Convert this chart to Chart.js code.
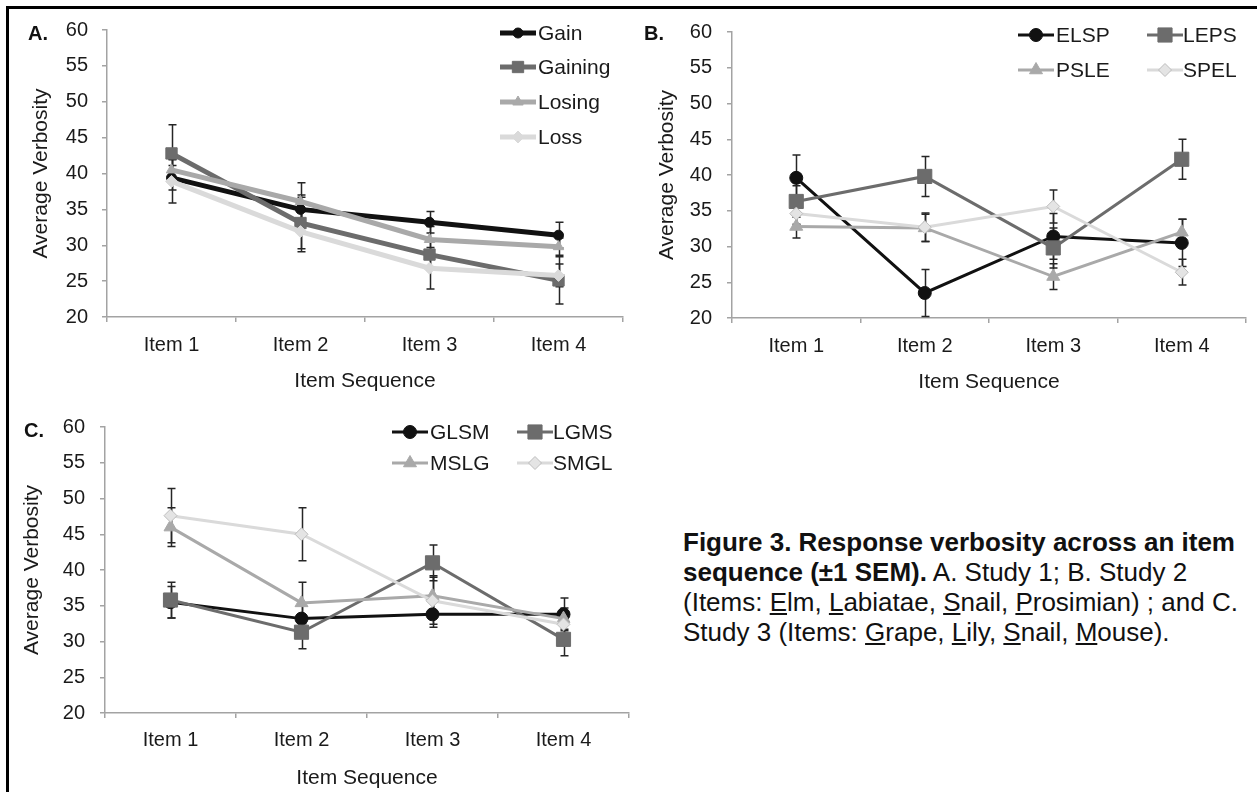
<!DOCTYPE html>
<html>
<head>
<meta charset="utf-8">
<script src="https://cdn.jsdelivr.net/npm/chart.js@4.4.1/dist/chart.umd.min.js"></script>
<style>
html, body { margin: 0; padding: 0; background: #fff; }
body { width: 1257px; height: 792px; position: relative; overflow: hidden; font-family: 'Liberation Sans', Arial, sans-serif; color: #111; }
#frame { position: absolute; left: 6px; top: 6px; width: 1270px; height: 800px; border-left: 3px solid #000; border-top: 3px solid #000; }
canvas { position: absolute; }
.plabel { position: absolute; font-weight: bold; font-size: 20px; line-height: 24px; color: #111; }
#caption { position: absolute; left: 683px; top: 527px; font-size: 26px; line-height: 30px; white-space: nowrap; color: #111; }
</style>
</head>
<body>
<div id="frame"></div>
<canvas id="chartA" width="640" height="400" style="left:0;top:0"></canvas>
<canvas id="chartB" width="627" height="400" style="left:630px;top:0"></canvas>
<canvas id="chartC" width="640" height="392" style="left:0;top:400px"></canvas>
<div class="plabel" style="left:28px;top:21px">A.</div>
<div class="plabel" style="left:644px;top:21px">B.</div>
<div class="plabel" style="left:24px;top:418px">C.</div>
<div id="caption">
<b>Figure 3. Response verbosity across an item</b><br>
<b>sequence (±1 SEM).</b> A. Study 1; B. Study 2<br>
(Items: <u>E</u>lm, <u>L</u>abiatae, <u>S</u>nail, <u>P</u>rosimian) ; and C.<br>
Study 3 (Items: <u>G</u>rape, <u>L</u>ily, <u>S</u>nail, <u>M</u>ouse).
</div>
<script>
// categories and axis range
const items = ['Item 1', 'Item 2', 'Item 3', 'Item 4'];
const yMin = 20, yMax = 60, yStep = 5;

// Study 1 (panel A)
const namesA = ['Gain', 'Gaining', 'Losing', 'Loss'];
const gainA = [39.4, 35.0, 33.2, 31.4];
const gainingA = [42.8, 33.1, 28.7, 25.1];
const losingA = [40.5, 36.1, 30.8, 29.8];
const lossA = [38.9, 31.9, 26.8, 25.8];
const gainErrA = [1.7, 2.0, 1.5, 1.8];
const gainingErrA = [4.0, 3.6, 2.2, 3.3];
const losingErrA = [1.5, 2.6, 1.8, 1.2];
const lossErrA = [3.0, 2.8, 2.9, 1.6];

// Study 2 (panel B)
const namesB = ['ELSP', 'LEPS', 'PSLE', 'SPEL'];
const elspB = [39.6, 23.5, 31.4, 30.5];
const lepsB = [36.3, 39.8, 29.8, 42.2];
const psleB = [32.8, 32.6, 25.8, 32.0];
const spelB = [34.6, 32.7, 35.6, 26.4];
const elspErrB = [3.2, 3.3, 3.2, 3.3];
const lepsErrB = [2.2, 2.8, 2.8, 2.8];
const psleErrB = [1.6, 1.9, 1.8, 1.8];
const spelErrB = [1.5, 2.0, 2.3, 1.8];

// Study 3 (panel C)
const namesC = ['GLSM', 'LGMS', 'MSLG', 'SMGL'];
const glsmC = [35.5, 33.2, 33.8, 33.8];
const lgmsC = [35.8, 31.3, 41.0, 30.3];
const mslgC = [46.0, 35.4, 36.4, 33.2];
const smglC = [47.6, 45.0, 35.7, 32.4];
const glsmErrC = [2.2, 2.2, 1.8, 2.3];
const lgmsErrC = [2.5, 2.3, 2.5, 2.3];
const mslgErrC = [2.7, 2.9, 2.8, 1.5];
const smglErrC = [3.8, 3.7, 3.3, 1.8];

const fontFamily = "'Liberation Sans', Arial, sans-serif";
const textColor = '#1a1a1a';
const axisColor = '#a3a3a3';

Chart.defaults.font.family = fontFamily;

// series looks: black circle, dark square, grey triangle, light diamond
function seriesStyles(thick) {
    const lw = thick ? 5 : 3;
    return [
        { color: '#111111', fill: '#111111', edge: '#111111', style: 'circle', r: thick ? 5 : 6.5, lw: lw },
        { color: '#6c6c6c', fill: '#6c6c6c', edge: '#6c6c6c', style: 'rect', r: thick ? 8 : 10, lw: lw },
        { color: '#a9a9a9', fill: '#a9a9a9', edge: '#a9a9a9', style: 'triangle', r: thick ? 6 : 7.5, lw: lw },
        { color: '#dadada', fill: thick ? '#dadada' : '#e4e4e4', edge: thick ? '#dadada' : '#bdbdbd', style: 'rectRot', r: thick ? 6 : 6.5, lw: lw }
    ];
}

function buildDatasets(names, values, errors, thick) {
    const looks = seriesStyles(thick);
    return names.map((name, i) => ({
        label: name,
        data: values[i],
        errors: errors[i],
        borderColor: looks[i].color,
        borderWidth: looks[i].lw,
        backgroundColor: looks[i].fill,
        pointStyle: looks[i].style,
        pointRadius: looks[i].r,
        pointBackgroundColor: looks[i].fill,
        pointBorderColor: looks[i].edge,
        pointBorderWidth: 1,
        tension: 0,
        order: names.length - i
    }));
}

const errorBars = {
    id: 'errorBars',
    beforeDatasetsDraw(chart) {
        const ctx = chart.ctx;
        const x = chart.scales.x, y = chart.scales.y;
        ctx.save();
        ctx.strokeStyle = '#262626';
        ctx.lineWidth = 1.5;
        chart.data.datasets.forEach(ds => {
            ds.data.forEach((v, j) => {
                const e = ds.errors[j];
                const px = Math.round(x.getPixelForValue(j)) + 0.5;
                const top = y.getPixelForValue(v + e);
                const bot = y.getPixelForValue(v - e);
                ctx.beginPath();
                ctx.moveTo(px, top); ctx.lineTo(px, bot);
                ctx.moveTo(px - 4, top); ctx.lineTo(px + 4, top);
                ctx.moveTo(px - 4, bot); ctx.lineTo(px + 4, bot);
                ctx.stroke();
            });
        });
        ctx.restore();
    }
};

function makeLegend(slots) {
    return {
        id: 'lineLegend',
        afterDatasetsDraw(chart) {
            const ctx = chart.ctx;
            ctx.save();
            ctx.font = '21px ' + fontFamily;
            ctx.textBaseline = 'middle';
            chart.data.datasets.forEach((ds, i) => {
                const [lx, tx, ly] = slots[i];
                const len = 36;
                ctx.strokeStyle = ds.borderColor;
                ctx.lineWidth = ds.borderWidth;
                ctx.beginPath();
                ctx.moveTo(lx, ly); ctx.lineTo(lx + len, ly);
                ctx.stroke();
                ctx.fillStyle = ds.pointBackgroundColor;
                ctx.strokeStyle = ds.pointBorderColor;
                ctx.lineWidth = ds.pointBorderWidth;
                Chart.helpers.drawPoint(ctx, {
                    pointStyle: ds.pointStyle, radius: ds.pointRadius,
                    borderWidth: ds.pointBorderWidth, rotation: 0
                }, lx + len / 2, ly);
                ctx.fillStyle = textColor;
                ctx.fillText(ds.label, tx, ly + 1);
            });
            ctx.restore();
        }
    };
}

function makeChart(canvasId, datasets, geo, slots) {
    const ctx = document.getElementById(canvasId).getContext('2d');
    return new Chart(ctx, {
        type: 'line',
        data: { labels: items, datasets: datasets },
        plugins: [errorBars, makeLegend(slots)],
        options: {
            responsive: false,
            animation: false,
            events: [],
            layout: { padding: geo.padding },
            plugins: { legend: { display: false }, tooltip: { enabled: false } },
            scales: {
                x: {
                    offset: true,
                    grid: { drawOnChartArea: false, drawTicks: true, tickLength: 5, offset: true, color: axisColor, lineWidth: 1.5 },
                    border: { display: true, color: axisColor, width: 1.5 },
                    ticks: { color: textColor, font: { size: 20 }, padding: geo.xPad, maxRotation: 0 },
                    title: { display: true, text: 'Item Sequence', color: textColor, font: { size: 21 }, padding: 0 },
                    afterFit: s => { s.height = geo.xHeight; }
                },
                y: {
                    min: yMin,
                    max: yMax,
                    grid: { drawOnChartArea: false, drawTicks: true, tickLength: 5, color: axisColor, lineWidth: 1.5 },
                    border: { display: true, color: axisColor, width: 1.5 },
                    ticks: { stepSize: yStep, color: textColor, font: { size: 20 }, padding: geo.yPad },
                    title: { display: true, text: 'Average Verbosity', color: textColor, font: { size: 21 }, padding: { top: geo.titlePad, bottom: 0 } },
                    afterFit: s => { s.width = geo.yWidth; }
                }
            }
        }
    });
}

makeChart('chartA',
    buildDatasets(namesA, [gainA, gainingA, losingA, lossA], [gainErrA, gainingErrA, losingErrA, lossErrA], true),
    { padding: { left: 0, top: 30, right: 17, bottom: 6 }, yWidth: 107, xHeight: 77, xPad: 11, yPad: 14, titlePad: 29 },
    [[500, 538, 33], [500, 538, 67], [500, 538, 102], [500, 538, 137]]);

makeChart('chartB',
    buildDatasets(namesB, [elspB, lepsB, psleB, spelB], [elspErrB, lepsErrB, psleErrB, spelErrB], false),
    { padding: { left: 0, top: 32, right: 1, bottom: 5 }, yWidth: 102, xHeight: 77, xPad: 11, yPad: 15, titlePad: 25 },
    [[388, 426, 35], [517, 553, 35], [388, 426, 70], [517, 553, 70]]);

makeChart('chartC',
    buildDatasets(namesC, [glsmC, lgmsC, mslgC, smglC], [glsmErrC, lgmsErrC, mslgErrC, smglErrC], false),
    { padding: { left: 0, top: 26, right: 9, bottom: 1 }, yWidth: 105, xHeight: 78, xPad: 10, yPad: 15, titlePad: 20 },
    [[392, 430, 32], [517, 553, 32], [392, 430, 63], [517, 553, 63]]);
</script>
</body>
</html>
